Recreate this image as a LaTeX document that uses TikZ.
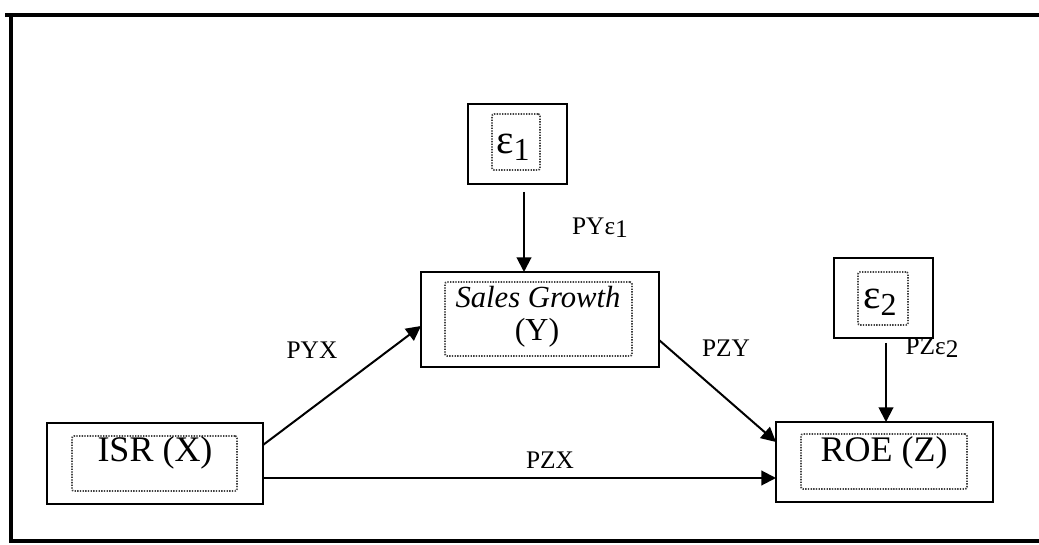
\documentclass[tikz,border=0pt]{standalone}
\usepackage{fontspec}
\setmainfont{Liberation Serif}
\usetikzlibrary{arrows.meta,calc}
\begin{document}
\begin{tikzpicture}[x=0.75pt,y=-0.75pt,
  outerbox/.style={draw, line width=2pt, inner sep=0pt, outer sep=0pt},
  innerbox/.style={draw=black!75, line width=1.3pt, dash pattern=on 1pt off 1pt, rounded corners=1.5pt, inner sep=0pt, outer sep=0pt},
  maintext/.style={font=\fontsize{27}{30}\selectfont, inner sep=0pt},
  epstext/.style={font=\fontsize{31}{33}\selectfont, inner sep=0pt},
  lbl/.style={font=\fontsize{19}{21}\selectfont, inner sep=0pt},
  conn/.style={line width=1.5pt, -{Triangle[length=11pt,width=11pt]}}]
\useasboundingbox (0,0) rectangle (1039,545);
% frame
\coordinate (ftl) at (5,15);
\coordinate (ftr) at (1039,15);
\coordinate (flt) at (11,15);
\coordinate (fbl) at (11,541);
\coordinate (fbr) at (1039,541);
\draw[line width=2.8pt] (ftl) -- (ftr);
\draw[line width=2.8pt] (flt) -- (fbl) -- (fbr);
% epsilon 1
\node[outerbox, minimum width=74.25pt, minimum height=60pt] (e1) at (517.5,144) {};
\node[innerbox, minimum width=36pt, minimum height=42pt] (e1in) at (516,142) {};
\node[epstext] (e1t) at (513,147) {ε\raisebox{-5pt}{\fontsize{24}{26}\selectfont 1}};
% sales growth
\node[outerbox, minimum width=178.5pt, minimum height=71.25pt] (sg) at (540,319.5) {};
\node[innerbox, minimum width=140.25pt, minimum height=55.5pt] (sgin) at (538.5,319) {};
\node[maintext, font=\fontsize{23}{25}\selectfont\itshape] (sgt1) at (538,297) {Sales Growth};
\node[maintext, font=\fontsize{24}{26}\selectfont] (sgt2) at (537,333) {(Y)};
% ISR
\node[outerbox, minimum width=162pt, minimum height=60.75pt] (isr) at (155,463.5) {};
\node[innerbox, minimum width=123.75pt, minimum height=41.25pt] (isrin) at (154.5,463.5) {};
\node[maintext] (isrt) at (155,453) {ISR (X)};
% epsilon 2
\node[outerbox, minimum width=74.25pt, minimum height=60pt] (e2) at (883.5,298) {};
\node[innerbox, minimum width=37.5pt, minimum height=39.75pt] (e2in) at (883,298.5) {};
\node[epstext] (e2t) at (880,302) {ε\raisebox{-5pt}{\fontsize{24}{26}\selectfont 2}};
% ROE
\node[outerbox, minimum width=162.75pt, minimum height=60pt] (roe) at (884.5,462) {};
\node[innerbox, minimum width=124.5pt, minimum height=41.25pt] (roein) at (884,461.5) {};
\node[maintext] (roet) at (884,453) {ROE (Z)};
% connectors
\coordinate (a1) at ($(e1.south)+(6.5,8)$);
\draw[conn] (a1) -- (a1 |- sg.north);
\coordinate (a2) at ($(e2.south)+(2.5,5)$);
\draw[conn] (a2) -- (a2 |- roe.north);
\draw[conn] ($(isr.east)+(0,-18.5)$) -- ($(sg.west)+(0,6.5)$);
\draw[conn] ($(isr.east)+(0,14.5)$) -- ($(roe.west)+(0,16)$);
\draw[conn] ($(sg.east)+(0,20.5)$) -- ($(roe.west)+(0,-20)$);
% labels
\node[lbl] (lpyx) at (312,350) {PYX};
\node[lbl] (lpzx) at (550,460) {PZX};
\node[lbl] (lpzy) at (726,348) {PZY};
\node[lbl] (lpye) at (600,228) {PYε\raisebox{-2pt}{1}};
\node[lbl] (lpze) at (932,348) {PZε\raisebox{-2pt}{2}};
\end{tikzpicture}
\end{document}
